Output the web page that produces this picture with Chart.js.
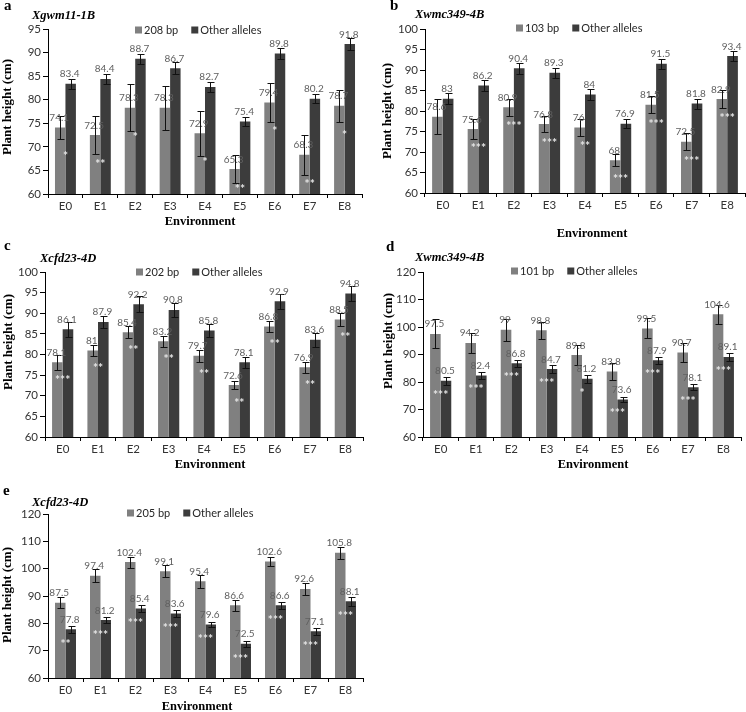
<!DOCTYPE html>
<html>
<head>
<meta charset="utf-8">
<script src="https://cdn.jsdelivr.net/npm/chart.js@4.4.1/dist/chart.umd.min.js"></script>
<style>
  html, body { margin: 0; padding: 0; background: #fff; }
  #fig { position: relative; width: 746px; height: 712px; overflow: hidden; }
  #fig canvas { position: absolute; }
</style>
</head>
<body>
<div id="fig">
  <canvas id="pa" width="373" height="240" style="left:0;top:0"></canvas>
  <canvas id="pb" width="373" height="240" style="left:373px;top:0"></canvas>
  <canvas id="pc" width="373" height="240" style="left:0;top:230px"></canvas>
  <canvas id="pd" width="373" height="240" style="left:373px;top:230px"></canvas>
  <canvas id="pe" width="373" height="242" style="left:0;top:470px"></canvas>
</div>
<script>
// Plant height by environment, allele vs other alleles

const envs = ['E0', 'E1', 'E2', 'E3', 'E4', 'E5', 'E6', 'E7', 'E8'];

// a - Xgwm11-1B
const aAllele = [74.1, 72.5, 78.3, 78.3, 72.9, 65.3, 79.4, 68.3, 78.7];
const aOther = [83.4, 84.4, 88.7, 86.7, 82.7, 75.4, 89.8, 80.2, 91.8];
const aAlleleErr = [2.5, 4.0, 5.0, 4.7, 4.8, 3.0, 4.2, 4.3, 3.4];
const aOtherErr = [1.1, 1.1, 1.1, 1.2, 1.1, 0.9, 1.1, 1.0, 1.2];
const aStars = ['*', '**', '*', '', '*', '**', '*', '**', '*'];

// b - Xwmc349-4B
const bAllele = [78.6, 75.6, 80.9, 76.8, 76, 68, 81.5, 72.5, 82.9];
const bOther = [83, 86.2, 90.4, 89.3, 84, 76.9, 91.5, 81.8, 93.4];
const bAlleleErr = [4.3, 2.5, 2.0, 2.0, 2.0, 1.5, 2.1, 2.1, 2.2];
const bOtherErr = [1.3, 1.3, 1.3, 1.3, 1.3, 1.1, 1.3, 1.2, 1.3];
const bStars = ['', '***', '***', '***', '**', '***', '***', '***', '***'];

// c - Xcfd23-4D
const cAllele = [78.1, 81, 85.4, 83.2, 79.7, 72.6, 86.8, 76.9, 88.5];
const cOther = [86.1, 87.9, 92.2, 90.8, 85.8, 78.1, 92.9, 83.6, 94.8];
const cAlleleErr = [1.8, 1.4, 1.5, 1.4, 1.4, 1.0, 1.4, 1.4, 1.6];
const cOtherErr = [1.8, 1.5, 2.0, 1.8, 1.6, 1.3, 1.8, 1.7, 1.8];
const cStars = ['***', '**', '**', '**', '**', '**', '**', '**', '**'];

// d - Xwmc349-4B
const dAllele = [97.5, 94.2, 99, 98.8, 89.8, 83.8, 99.5, 90.7, 104.6];
const dOther = [80.5, 82.4, 86.8, 84.7, 81.2, 73.6, 87.9, 78.1, 89.1];
const dAlleleErr = [5.3, 3.6, 4.0, 3.0, 3.5, 3.0, 3.6, 3.5, 3.5];
const dOtherErr = [1.5, 1.4, 1.3, 1.4, 1.5, 0.9, 1.2, 1.1, 1.5];
const dStars = ['***', '***', '***', '***', '*', '***', '***', '***', '***'];

// e - Xcfd23-4D
const eAllele = [87.5, 97.4, 102.4, 99.1, 95.4, 86.6, 102.6, 92.6, 105.8];
const eOther = [77.8, 81.2, 85.4, 83.6, 79.6, 72.5, 86.6, 77.1, 88.1];
const eAlleleErr = [2.0, 2.3, 2.0, 2.3, 2.3, 2.0, 1.7, 2.2, 2.1];
const eOtherErr = [1.2, 1.2, 1.2, 1.3, 0.9, 1.1, 1.2, 1.2, 1.6];
const eStars = ['**', '***', '***', '***', '***', '***', '***', '***', '***'];

const LIGHT = '#808080';
const DARK = '#3c3c3c';
const SANS = "Lato, 'Open Sans', sans-serif";
const SERIF = "'Liberation Serif', 'DejaVu Serif', serif";

const panels = [
    { id: 'pa', letter: 'a', marker: 'Xgwm11-1B', allele: '208 bp', light: aAllele, dark: aOther, lightErr: aAlleleErr, darkErr: aOtherErr, stars: aStars,
      yMin: 60, yMax: 95, step: 5, area: [48, 29, 362, 194], letterAt: [4, 9.5], titleAt: [32, 18.5], legendAt: [135, 30], yTitleAt: [8, 107], xTitleAt: [200, 222], starOff: 27 },
    { id: 'pb', letter: 'b', marker: 'Xwmc349-4B', allele: '103 bp', light: bAllele, dark: bOther, lightErr: bAlleleErr, darkErr: bOtherErr, stars: bStars,
      yMin: 60, yMax: 100, step: 5, area: [52, 29, 372, 193], letterAt: [17, 10], titleAt: [42, 18], legendAt: [143, 28], yTitleAt: [15, 111], xTitleAt: [219, 234], starOff: 17 },
    { id: 'pc', letter: 'c', marker: 'Xcfd23-4D', allele: '202 bp', light: cAllele, dark: cOther, lightErr: cAlleleErr, darkErr: cOtherErr, stars: cStars,
      yMin: 60, yMax: 100, step: 5, area: [45, 42, 363, 207], letterAt: [4, 20], titleAt: [40, 31.5], legendAt: [136, 42], yTitleAt: [9, 112], xTitleAt: [210, 235], starOff: 16 },
    { id: 'pd', letter: 'd', marker: 'Xwmc349-4B', allele: '101 bp', light: dAllele, dark: dOther, lightErr: dAlleleErr, darkErr: dOtherErr, stars: dStars,
      yMin: 60, yMax: 120, step: 10, area: [50, 42, 368, 207], letterAt: [13, 21], titleAt: [42, 31], legendAt: [138, 41], yTitleAt: [16, 111], xTitleAt: [220, 235], starOff: 12 },
    { id: 'pe', letter: 'e', marker: 'Xcfd23-4D', allele: '205 bp', light: eAllele, dark: eOther, lightErr: eAlleleErr, darkErr: eOtherErr, stars: eStars,
      yMin: 60, yMax: 120, step: 10, area: [48, 44, 363, 208], letterAt: [3, 25], titleAt: [32, 35.5], legendAt: [127, 43], yTitleAt: [8, 125], xTitleAt: [197, 237], starOff: 13 }
];

// error bars, value labels, significance stars, titles and legend
const panelDecor = {
    id: 'panelDecor',
    afterDatasetsDraw(chart, args, o) {
        const { ctx, chartArea } = chart;
        const y = chart.scales.y;
        ctx.save();

        // error bars
        ctx.strokeStyle = '#111';
        ctx.lineWidth = 1;
        chart.data.datasets.forEach((ds, di) => {
            chart.getDatasetMeta(di).data.forEach((bar, i) => {
                const v = ds.data[i], e = ds.errors[i];
                const x = Math.round(bar.x) + 0.5;
                const t = Math.round(y.getPixelForValue(v + e)) + 0.5;
                const b = Math.round(y.getPixelForValue(v - e)) + 0.5;
                ctx.beginPath();
                ctx.moveTo(x, t); ctx.lineTo(x, b);
                ctx.moveTo(x - 3, t); ctx.lineTo(x + 4, t);
                ctx.moveTo(x - 3, b); ctx.lineTo(x + 4, b);
                ctx.stroke();
            });
        });

        // value labels (lighter than the dark bars so they stay readable on them)
        ctx.font = '10px ' + SANS;
        ctx.fillStyle = '#5f5f5f';
        ctx.textAlign = 'center';
        ctx.textBaseline = 'alphabetic';
        chart.data.datasets.forEach((ds, di) => {
            chart.getDatasetMeta(di).data.forEach((bar, i) => {
                ctx.fillText(String(ds.data[i]), bar.x - 1, bar.y - 6.5);
            });
        });

        // significance stars
        ctx.font = 'bold 12px ' + SANS;
        ctx.fillStyle = '#e6e6e6';
        ctx.textBaseline = 'middle';
        const m0 = chart.getDatasetMeta(0).data, m1 = chart.getDatasetMeta(1).data;
        o.stars.forEach((s, i) => {
            if (!s) return;
            const top = Math.max(m0[i].y, m1[i].y);
            const sy = Math.min(top + o.starOff, chartArea.bottom - 7);
            ctx.fillText(s, (m0[i].x + m1[i].x) / 2, sy + 2);
        });
        ctx.restore();
    },
    afterDraw(chart, args, o) {
        const { ctx } = chart;
        ctx.save();
        ctx.fillStyle = '#000';

        ctx.font = 'bold 15px ' + SERIF;
        ctx.textAlign = 'left';
        ctx.textBaseline = 'alphabetic';
        ctx.fillText(o.letter, o.letterAt[0], o.letterAt[1]);

        ctx.font = 'italic bold 12.5px ' + SERIF;
        ctx.fillText(o.marker, o.titleAt[0], o.titleAt[1]);

        // legend
        let lx = o.legendAt[0];
        const ly = o.legendAt[1];
        ctx.font = '11px ' + SANS;
        ctx.textBaseline = 'middle';
        chart.data.datasets.forEach(ds => {
            ctx.fillStyle = ds.backgroundColor;
            ctx.fillRect(lx, ly - 3.5, 7, 7);
            ctx.fillStyle = '#262626';
            ctx.fillText(ds.label, lx + 9, ly + 0.5);
            lx += 9 + ctx.measureText(ds.label).width + 13;
        });

        // axis titles
        ctx.fillStyle = '#000';
        ctx.font = 'bold 12.5px ' + SERIF;
        ctx.textAlign = 'center';
        ctx.fillText('Environment', o.xTitleAt[0], o.xTitleAt[1]);
        ctx.font = 'bold 13px ' + SERIF;
        ctx.translate(o.yTitleAt[0], o.yTitleAt[1]);
        ctx.rotate(-Math.PI / 2);
        ctx.fillText('Plant height (cm)', 0, 0);
        ctx.restore();
    }
};

panels.forEach(p => {
    const canvas = document.getElementById(p.id);
    const W = canvas.width, H = canvas.height;
    const [aL, aT, aR, aB] = p.area;
    const axisGrid = { display: true, drawOnChartArea: false, drawTicks: true, tickLength: 5, color: '#000', lineWidth: 1 };

    new Chart(canvas, {
        type: 'bar',
        data: {
            labels: envs,
            datasets: [
                { label: p.allele, data: p.light, errors: p.lightErr, backgroundColor: LIGHT, categoryPercentage: 0.6, barPercentage: 1.0 },
                { label: 'Other alleles', data: p.dark, errors: p.darkErr, backgroundColor: DARK, categoryPercentage: 0.6, barPercentage: 1.0 }
            ]
        },
        options: {
            responsive: false,
            animation: false,
            events: [],
            layout: { padding: { top: aT, right: W - aR, bottom: 0, left: 0 } },
            plugins: {
                legend: { display: false },
                tooltip: { enabled: false },
                panelDecor: {
                    letter: p.letter, marker: p.marker, stars: p.stars, starOff: p.starOff,
                    letterAt: p.letterAt, titleAt: p.titleAt, legendAt: p.legendAt,
                    yTitleAt: p.yTitleAt, xTitleAt: p.xTitleAt
                }
            },
            scales: {
                x: {
                    grid: { ...axisGrid, tickLength: 4, offset: true },
                    border: { display: true, color: '#000', width: 1 },
                    ticks: { color: '#333', font: { family: SANS, size: 11.5 }, padding: 1, maxRotation: 0 },
                    afterFit: s => { s.height = H - aB; }
                },
                y: {
                    min: p.yMin, max: p.yMax,
                    grid: axisGrid,
                    border: { display: true, color: '#000', width: 1 },
                    ticks: { stepSize: p.step, color: '#333', font: { family: SANS, size: 11.5 }, padding: 2 },
                    afterFit: s => { s.width = aL; }
                }
            }
        },
        plugins: [panelDecor]
    });
});
</script>
</body>
</html>
